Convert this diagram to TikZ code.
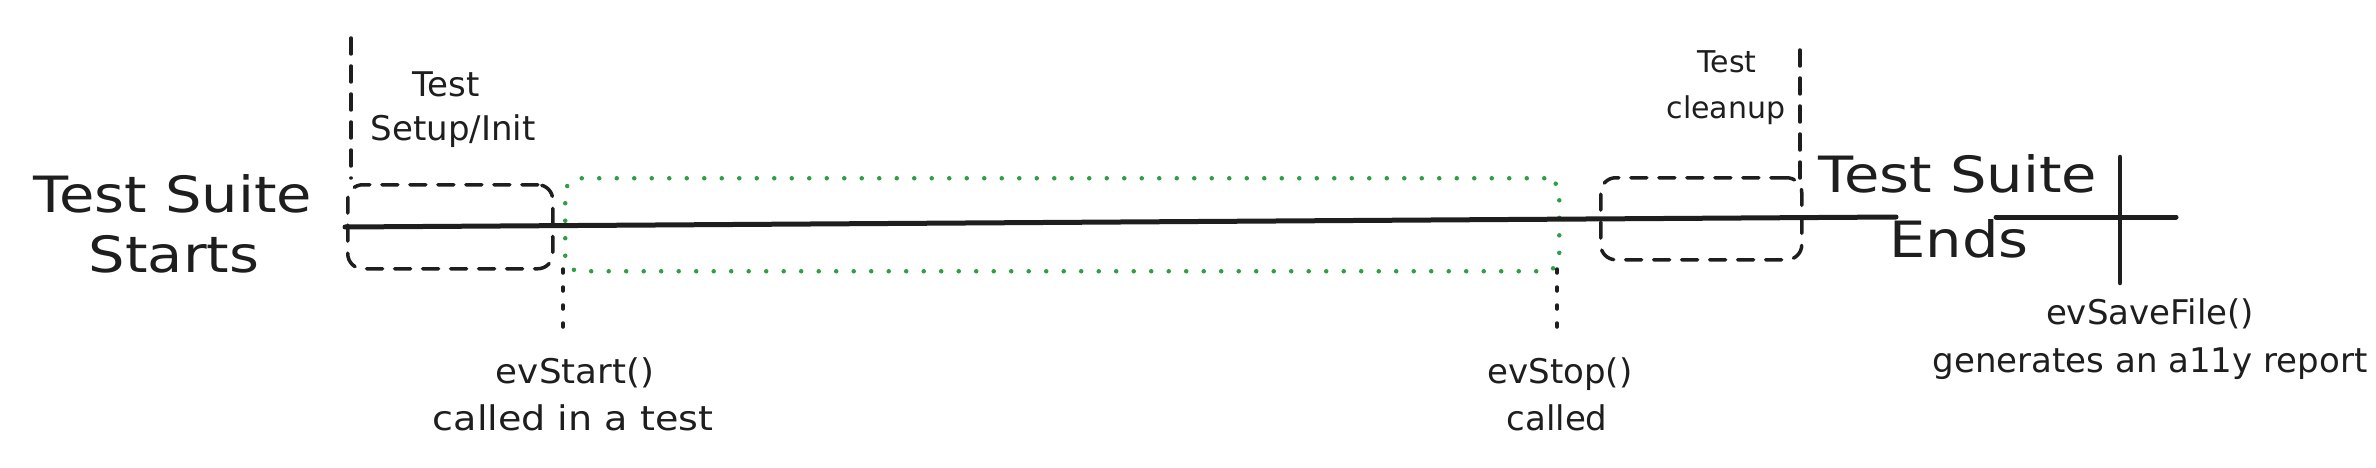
\documentclass[tikz,border=0pt]{standalone}
\usepackage{fontspec}
\setmainfont{DejaVu Sans}
\definecolor{ink}{HTML}{1E1E1E}
\definecolor{grn}{HTML}{2F9E44}
\newcommand{\wide}[1]{\scalebox{1.15}[1]{#1}}
\begin{document}
\begin{tikzpicture}[x=1pt,y=-1pt,
  big/.style={font=\fontsize{50}{58}\selectfont, text=ink, inner sep=0pt, anchor=base},
  lbl/.style={font=\fontsize{34}{40}\selectfont, text=ink, inner sep=0pt, anchor=base},
  lbls/.style={font=\fontsize{30}{36}\selectfont, text=ink, inner sep=0pt, anchor=base},
  timeline/.style={draw=ink, line width=5pt, line cap=round},
  dashbox/.style={draw=ink, line width=3.5pt, line cap=round, dash pattern=on 16pt off 12pt, rounded corners=15pt},
  dashline/.style={draw=ink, line width=3.5pt, line cap=round, dash pattern=on 16pt off 12pt},
  dotbox/.style={draw=grn, line width=4.5pt, line cap=round, dash pattern=on 0pt off 17.5pt, rounded corners=15pt},
  dotline/.style={draw=ink, line width=3.5pt, line cap=round, dash pattern=on 4pt off 14pt},
  tick/.style={draw=ink, line width=4.5pt, line cap=round}]
\useasboundingbox (0,0) rectangle (2376,468);

% coordinates
\coordinate (tlA) at (345,227);
\coordinate (tlB) at (1896,217);
\coordinate (tlC) at (1996,217);
\coordinate (tlD) at (2176,217);
\coordinate (vtTop) at (2120,157);
\coordinate (vtBot) at (2120,283);
\coordinate (lvTop) at (351,38);
\coordinate (lvBot) at (351,178);
\coordinate (rvTop) at (1800,50);
\coordinate (rvBot) at (1800,178);
\coordinate (gsTop) at (563,269);
\coordinate (gsBot) at (563,335);
\coordinate (geTop) at (1557,269);
\coordinate (geBot) at (1557,338);

% boxes
\node[dashbox, minimum width=205pt, minimum height=84pt, anchor=north west] (setup) at (346,183) {};
\node[dashbox, minimum width=201pt, minimum height=82pt, anchor=north west] (clean) at (1599,176) {};
\node[dotbox, minimum width=994pt, minimum height=93pt, anchor=north west] (run) at (563,176) {};

% lines
\draw[timeline] (tlA) -- (tlB);
\draw[timeline] (tlC) -- (tlD);
\draw[tick] (vtTop) -- (vtBot);
\draw[dashline] (lvTop) -- (lvBot);
\draw[dashline] (rvTop) -- (rvBot);
\draw[dotline] (gsTop) -- (gsBot);
\draw[dotline] (geTop) -- (geBot);

% texts
\node[big] (ts1) at (173,212) {\wide{Test Suite}};
\node[big] (ts2) at (174,272) {\wide{Starts}};
\node[lbl] (su1) at (446,97) {Test};
\node[lbl] (su2) at (453,141) {Setup/Init};
\node[lbls] (cl1) at (1727,73) {Test};
\node[lbls] (cl2) at (1726,119) {cleanup};
\node[big] (te1) at (1958,192) {\wide{Test Suite}};
\node[big] (te2) at (1959,257) {\wide{Ends}};
\node[lbl] (es1) at (575,383) {\scalebox{1.05}[1]{evStart()}};
\node[lbl] (es2) at (573,430) {\scalebox{1.12}[1]{called in a test}};
\node[lbl] (ep1) at (1560,383) {evStop()};
\node[lbl] (ep2) at (1557,430) {called};
\node[lbl] (sf1) at (2150,324) {evSaveFile()};
\node[lbl] (sf2) at (2150,372) {generates an a11y report};
\end{tikzpicture}
\end{document}
